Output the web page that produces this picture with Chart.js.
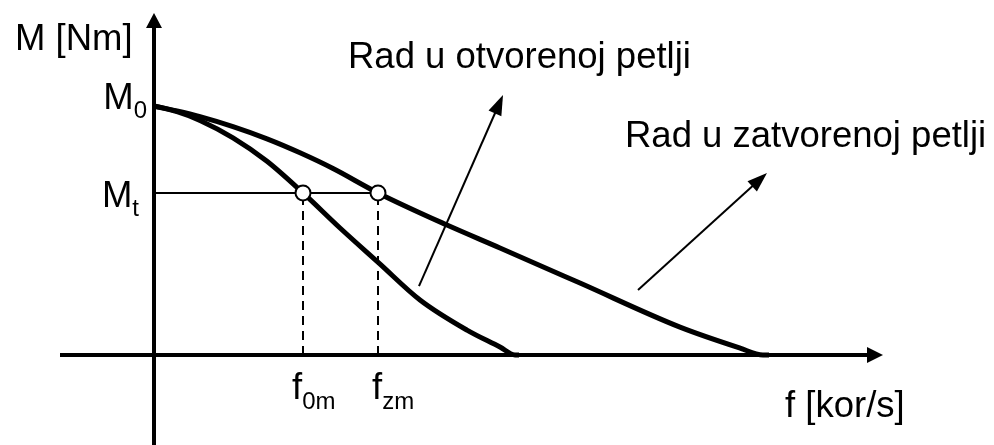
<!DOCTYPE html>
<html>
<head>
<meta charset="utf-8">
<script src="https://cdn.jsdelivr.net/npm/chart.js@4"></script>
<style>
  html, body { margin: 0; padding: 0; background: #fff; }
  #wrap { width: 994px; height: 445px; }
</style>
</head>
<body>
<div id="wrap"><canvas id="chart" width="994" height="445"></canvas></div>
<script>
// M(f) karakteristike koracnog motora (M normirano tako da je M0 = 10)
const openF   = [0, 2.3, 4.6, 7.9, 11.3, 14.9, 18.6, 22.5, 26.6, 31.3, 34.6, 36.1, 36.5];
const openM   = [10, 9.77, 9.42, 8.72, 7.78, 6.51, 5.10, 3.69, 2.21, 1.00, 0.32, 0, 0];
const closedF = [0, 2.3, 4.6, 7.9, 11.3, 14.6, 17.9, 22.4, 29.3, 34.6, 42.6, 52.6, 58.6, 60.9, 61.5];
const closedM = [10, 9.80, 9.57, 9.17, 8.68, 8.12, 7.49, 6.51, 5.22, 4.30, 2.89, 1.12, 0.28, 0, 0];

// oznake na osama
const M0 = 10, Mt = 6.51;
const f0m = 14.9, fzm = 22.4;
const mTicks = [M0, Mt];
const mTickSubs = ['0', 't'];
const fTicks = [f0m, fzm];
const fTickSubs = ['0m', 'zm'];

// natpisi
const yTitle = 'M [Nm]';
const xTitle = 'f [kor/s]';
const noteOpen = 'Rad u otvorenoj petlji';
const noteClosed = 'Rad u zatvorenoj petlji';

// opseg prikaza
const fMin = -15.4, fMax = 84.0;
const mMin = -3.614, mMax = 14.257;

const FONT = '"Liberation Sans", Arial, sans-serif';
const big = '36.5px ' + FONT;
const small = '24px ' + FONT;

function toXY(fs, ms) {
    return fs.map((f, i) => ({ x: f, y: ms[i] }));
}

function arrow(ctx, x1, y1, x2, y2, len, half, lw) {
    const a = Math.atan2(y2 - y1, x2 - x1);
    const bx = x2 - len * Math.cos(a), by = y2 - len * Math.sin(a);
    ctx.lineWidth = lw;
    ctx.beginPath();
    ctx.moveTo(x1, y1);
    ctx.lineTo(bx + 2 * Math.cos(a), by + 2 * Math.sin(a));
    ctx.stroke();
    ctx.beginPath();
    ctx.moveTo(x2, y2);
    ctx.lineTo(bx - half * Math.sin(a), by + half * Math.cos(a));
    ctx.lineTo(bx + half * Math.sin(a), by - half * Math.cos(a));
    ctx.closePath();
    ctx.fill();
}

// glavni znak + indeks
function subText(ctx, main, sub, x, y, subDy, alignRight) {
    ctx.font = big;
    const w1 = ctx.measureText(main).width;
    ctx.font = small;
    const w2 = ctx.measureText(sub).width;
    const x0 = alignRight ? x - w1 - w2 : x;
    ctx.font = big;
    ctx.fillText(main, x0, y);
    ctx.font = small;
    ctx.fillText(sub, x0 + w1, y + subDy);
}

const axesPlugin = {
    id: 'axes',
    beforeDatasetsDraw(chart) {
        const ctx = chart.ctx, sx = chart.scales.x, sy = chart.scales.y;
        const x0 = sx.getPixelForValue(0), y0 = sy.getPixelForValue(0);
        ctx.save();
        ctx.strokeStyle = '#000';
        ctx.fillStyle = '#000';
        ctx.lineCap = 'butt';
        // f osa
        arrow(ctx, sx.getPixelForValue(-9.4), y0, sx.getPixelForValue(72.9), y0, 16, 8, 4);
        // M osa
        arrow(ctx, x0, sy.getPixelForValue(mMin), x0, sy.getPixelForValue(13.73), 15, 8, 4);
        ctx.restore();
    },
    afterDatasetsDraw(chart) {
        const ctx = chart.ctx, sx = chart.scales.x, sy = chart.scales.y;
        const x0 = sx.getPixelForValue(0), y0 = sy.getPixelForValue(0);
        ctx.save();
        ctx.fillStyle = '#000';
        ctx.strokeStyle = '#000';
        ctx.textBaseline = 'alphabetic';
        ctx.textAlign = 'left';

        // oznake na M osi
        const mDx = [-7, -15], mDy = [3, 14];
        mTicks.forEach((m, i) => {
            subText(ctx, 'M', mTickSubs[i], x0 + mDx[i], sy.getPixelForValue(m) + mDy[i], 9, true);
        });
        // oznake na f osi
        const fDx = [-11, -6];
        fTicks.forEach((f, i) => {
            subText(ctx, 'f', fTickSubs[i], sx.getPixelForValue(f) + fDx[i], y0 + 44, 10, false);
        });

        ctx.font = big;
        ctx.fillText(yTitle, sx.getPixelForValue(-13.9), sy.getPixelForValue(12.25));
        ctx.fillText(xTitle, sx.getPixelForValue(63.1), sy.getPixelForValue(-2.49));
        ctx.fillText(noteOpen, sx.getPixelForValue(19.4), sy.getPixelForValue(11.53));
        ctx.fillText(noteClosed, sx.getPixelForValue(47.1), sy.getPixelForValue(8.35));

        // strelice prema natpisima
        arrow(ctx, sx.getPixelForValue(26.5), sy.getPixelForValue(2.77),
                   sx.getPixelForValue(34.9), sy.getPixelForValue(10.44), 20, 7, 2);
        arrow(ctx, sx.getPixelForValue(48.4), sy.getPixelForValue(2.61),
                   sx.getPixelForValue(61.3), sy.getPixelForValue(7.31), 20, 7, 2);
        ctx.restore();
    }
};

document.addEventListener('DOMContentLoaded', () => {
    new Chart(document.getElementById('chart').getContext('2d'), {
        type: 'scatter',
        data: {
            datasets: [{
                label: 'radne tacke',
                data: [{ x: f0m, y: Mt }, { x: fzm, y: Mt }],
                pointRadius: 7.5,
                pointBackgroundColor: '#fff',
                pointBorderColor: '#000',
                pointBorderWidth: 2,
                showLine: false,
                order: 0
            }, {
                label: noteOpen,
                data: toXY(openF, openM),
                borderColor: '#000',
                borderWidth: 5,
                pointRadius: 0,
                showLine: true,
                cubicInterpolationMode: 'monotone',
                order: 1
            }, {
                label: noteClosed,
                data: toXY(closedF, closedM),
                borderColor: '#000',
                borderWidth: 5,
                pointRadius: 0,
                showLine: true,
                cubicInterpolationMode: 'monotone',
                order: 1
            }, {
                label: 'Mt',
                data: [{ x: 0, y: Mt }, { x: fzm, y: Mt }],
                borderColor: '#000',
                borderWidth: 2,
                pointRadius: 0,
                showLine: true,
                order: 2
            }, {
                label: 'f0m',
                data: [{ x: f0m, y: 0 }, { x: f0m, y: Mt }],
                borderColor: '#000',
                borderWidth: 2,
                borderDash: [9, 6],
                pointRadius: 0,
                showLine: true,
                order: 2
            }, {
                label: 'fzm',
                data: [{ x: fzm, y: 0 }, { x: fzm, y: Mt }],
                borderColor: '#000',
                borderWidth: 2,
                borderDash: [9, 6],
                pointRadius: 0,
                showLine: true,
                order: 2
            }]
        },
        options: {
            responsive: false,
            devicePixelRatio: 1,
            animation: false,
            layout: { padding: 0, autoPadding: false },
            scales: {
                x: { type: 'linear', min: fMin, max: fMax, display: false },
                y: { type: 'linear', min: mMin, max: mMax, display: false }
            },
            plugins: {
                legend: { display: false },
                tooltip: { enabled: false }
            }
        },
        plugins: [axesPlugin]
    });
});
</script>
</body>
</html>
